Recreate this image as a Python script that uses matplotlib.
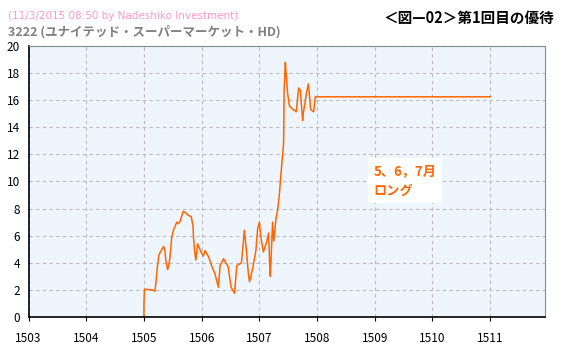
import matplotlib
matplotlib.use("Agg")
import matplotlib.pyplot as plt

plt.rcParams['font.family'] = ['Noto Sans CJK JP', 'DejaVu Sans']

### Data (x in months counted from 1503)
months = ['1503', '1504', '1505', '1506', '1507', '1508', '1509', '1510', '1511']
x = [2.00, 2.00, 2.01, 2.15, 2.19, 2.21, 2.23, 2.26, 2.30, 2.34, 2.36, 2.38, 2.41, 2.43,
     2.45, 2.48, 2.51, 2.57, 2.60, 2.63, 2.68, 2.72, 2.77, 2.82, 2.85, 2.86, 2.88, 2.90,
     2.93, 2.99, 3.03, 3.06, 3.12, 3.18, 3.23, 3.29, 3.32, 3.38, 3.46, 3.51, 3.57, 3.61,
     3.69, 3.74, 3.77, 3.81, 3.83, 3.89, 3.94, 3.97, 4.00, 4.03, 4.07, 4.13, 4.16, 4.18,
     4.19, 4.23, 4.25, 4.29, 4.32, 4.35, 4.37, 4.42, 4.43, 4.45, 4.46, 4.49, 4.52, 4.56,
     4.64, 4.68, 4.71, 4.75, 4.76, 4.82, 4.85, 4.89, 4.94, 4.97, 8.00]
y = [0.0, 1.0, 2.05, 2.0, 1.9, 2.6, 3.6, 4.6, 4.9, 5.2, 5.0, 4.2, 3.5, 3.8,
     4.35, 5.8, 6.4, 7.0, 6.9, 7.1, 7.8, 7.7, 7.5, 7.4, 6.7, 5.8, 4.8, 4.2,
     5.4, 4.8, 4.5, 4.9, 4.45, 3.7, 3.2, 2.2, 3.8, 4.3, 3.7, 2.2, 1.75, 3.8,
     4.0, 6.4, 5.2, 3.2, 2.6, 3.7, 4.9, 6.5, 7.0, 5.8, 4.8, 5.6, 6.2, 3.8,
     3.0, 7.0, 5.6, 7.3, 8.0, 9.2, 10.35, 12.8, 16.75, 18.8, 18.2, 16.5, 15.6, 15.4,
     15.15, 16.9, 16.75, 14.5, 15.0, 16.6, 17.2, 15.3, 15.15, 16.25, 16.25]

### Figure
fig = plt.figure(figsize=(5.66, 3.49), dpi=100)
ax = fig.add_axes([0.0504, 0.0917, 0.9125, 0.7765])
ax.set_facecolor('#EEF5FC')
ax.plot(x, y, color='#FF6600', linewidth=1.1)

ax.set_xlim(0, 8.95)
ax.set_ylim(0, 20)
ax.set_xticks(range(len(months)))
ax.set_xticklabels(months, fontsize=8.5)
ax.set_yticks(range(0, 21, 2))
ax.tick_params(axis='y', labelsize=8.5, length=0, pad=6)
ax.tick_params(axis='x', length=3, pad=8)
ax.grid(color='#BBBBBB', linestyle=(0, (3, 3)), linewidth=0.8)

for s in ['top', 'right']:
    ax.spines[s].set_color('#888888')
for s in ['left', 'bottom']:
    ax.spines[s].set_color('black')
    ax.spines[s].set_linewidth(1.2)

### Texts
fig.text(0.014, 0.955, '(11/3/2015 08:50 by Nadeshiko Investment)', color='#FF99CC',
         fontsize=7.5, va='center', family=['DejaVu Sans'])
fig.text(0.014, 0.91, '3222 (ユナイテッド・スーパーマーケット・HD)', color='#808080',
         fontsize=9, fontweight='bold', va='center')
fig.text(0.98, 0.95, '＜図—02＞第1回目の優待', color='black',
         fontsize=10.5, fontweight='bold', va='center', ha='right')
ax.text(5.98, 11.3, '5、6，7月\nロング', color='#FF6600', fontsize=9.5,
        fontweight='bold', va='top', ha='left', linespacing=1.5,
        bbox=dict(facecolor='white', edgecolor='none', pad=4))

fig.savefig('out.png', dpi=100)
